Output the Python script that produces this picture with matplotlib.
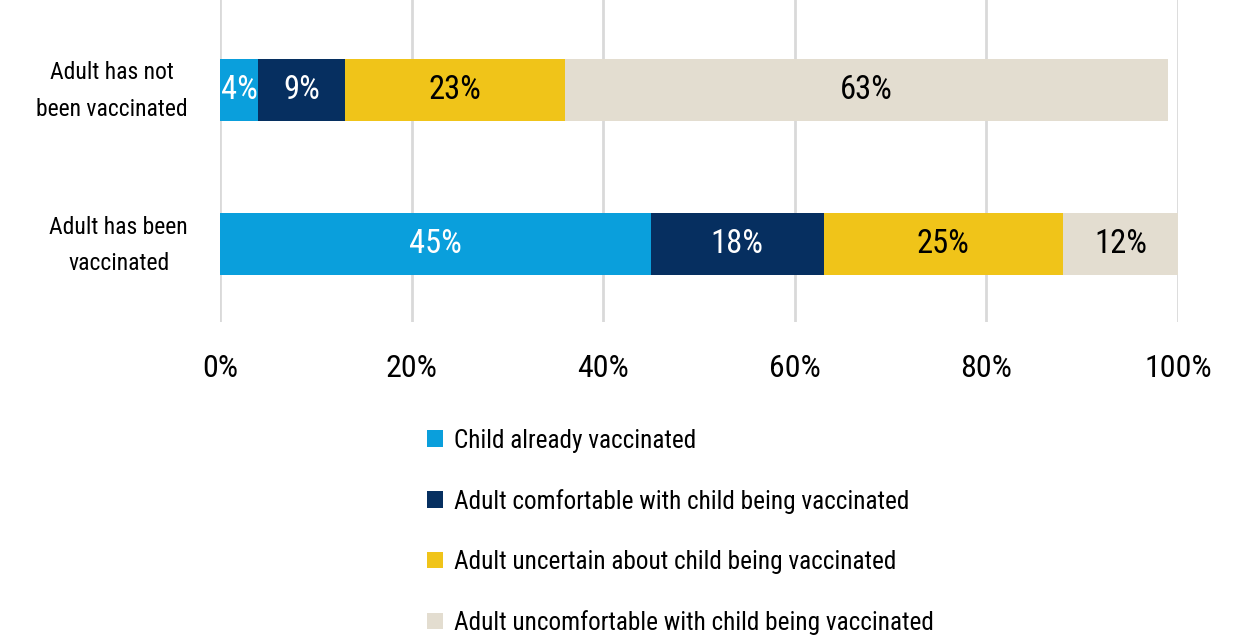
import matplotlib
matplotlib.use("Agg")
import matplotlib.pyplot as plt
from matplotlib.patches import Patch
from matplotlib.transforms import ScaledTranslation

plt.rcParams['font.family'] = ['Roboto Condensed', 'Liberation Sans Narrow', 'DejaVu Sans']
plt.rcParams['font.stretch'] = 'condensed'

groups = ["Adult has been\nvaccinated", "Adult has not\nbeen vaccinated"]
series = [
    "Child already vaccinated",
    "Adult comfortable with child being vaccinated",
    "Adult uncertain about child being vaccinated",
    "Adult uncomfortable with child being vaccinated",
]
values = [
    [45, 4],   # Child already vaccinated
    [18, 9],   # Adult comfortable
    [25, 23],  # Adult uncertain
    [12, 63],  # Adult uncomfortable
]
colors = ["#0a9fdc", "#062f60", "#f0c419", "#e3ddd0"]
text_colors = ["white", "white", "black", "black"]
xticks = [0, 20, 40, 60, 80, 100]
xtick_labels = ["0%", "20%", "40%", "60%", "80%", "100%"]

fig = plt.figure(figsize=(12.45, 6.37), dpi=100)
ax = fig.add_axes([220 / 1245, 1 - 322 / 637, (1178 - 220) / 1245, 322 / 637])

ypos = [0, 1]
left = [0, 0]
for vals, col, tcol, name in zip(values, colors, text_colors, series):
    ax.barh(ypos, vals, left=left, height=0.4, color=col, label=name, zorder=2)
    for y, v, l in zip(ypos, vals, left):
        ax.text(l + v / 2, y, f"{v}%", ha="center", va="center",
                color=tcol, fontsize=23.5, zorder=3)
    left = [a + b for a, b in zip(left, vals)]

ax.set_xlim(0, 100)
ax.set_ylim(-0.506, 1.584)
ax.set_xticks(xticks)
ax.set_xticklabels(xtick_labels, fontsize=23)
ax.set_yticks(ypos)
ax.set_yticklabels(groups, fontsize=17, multialignment="center", linespacing=1.75)
ax.tick_params(axis="both", length=0)
ax.tick_params(axis="x", pad=23)
ax.tick_params(axis="y", pad=23)
# nudge the two-line category labels up so they sit centred on the bars
for lab in ax.get_yticklabels():
    lab.set_transform(lab.get_transform() + ScaledTranslation(0, 0.08, fig.dpi_scale_trans))
ax.grid(axis="x", color="#d9d9d9", linewidth=2, zorder=0)
for s in ax.spines.values():
    s.set_visible(False)

handles = [Patch(facecolor=c, edgecolor="none") for c in colors]
fig.legend(handles, series, loc="upper left",
           bbox_to_anchor=(414 / 1245, 1 - 416 / 637),
           frameon=False, fontsize=18.2, handlelength=0.65, handleheight=0.65,
           handletextpad=0.45, labelspacing=1.43, borderpad=0)

fig.savefig("out.png", dpi=100)
